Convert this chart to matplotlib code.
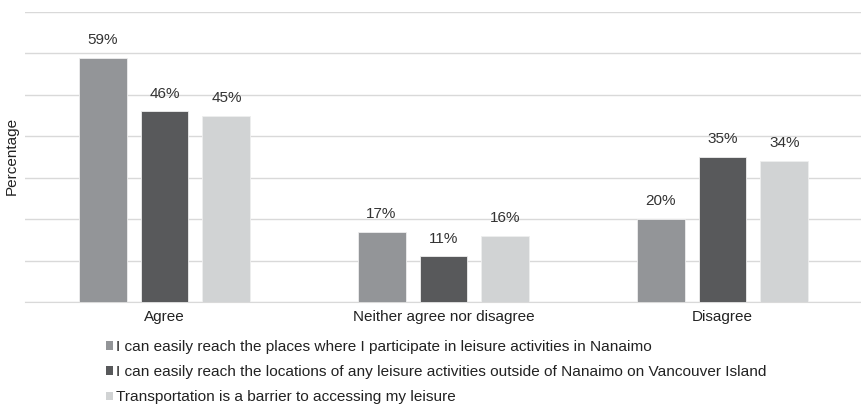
import numpy as np
import matplotlib.pyplot as plt
from matplotlib.patches import Patch

plt.rcParams['font.family'] = ['Liberation Sans', 'DejaVu Sans']

categories = ['Agree', 'Neither agree nor disagree', 'Disagree']
series_names = [
    'I can easily reach the places where I participate in leisure activities in Nanaimo',
    'I can easily reach the locations of any leisure activities outside of Nanaimo on Vancouver Island',
    'Transportation is a barrier to accessing my leisure',
]
places_nanaimo = [59, 17, 20]
outside_nanaimo = [46, 11, 35]
transport_barrier = [45, 16, 34]
colors = ['#939598', '#58595b', '#d1d3d4']

fig = plt.figure(figsize=(8.62, 4.13), dpi=100)
ax = fig.add_axes([25 / 862, 1 - 302 / 413, 837 / 862, 290 / 413])

x = np.arange(len(categories))
width = 0.172
pitch = 0.222
all_series = [places_nanaimo, outside_nanaimo, transport_barrier]

for i, (vals, c) in enumerate(zip(all_series, colors)):
    bars = ax.bar(x + (i - 1) * pitch, vals, width, color=c, edgecolor='#eeeeee',
                  linewidth=0.6, zorder=3)
    for b, v in zip(bars, vals):
        ax.text(b.get_x() + b.get_width() / 2, v + 2.6, f'{v}%', ha='center',
                va='bottom', fontsize=11, color='#333333')

ax.set_xlim(-0.5, 2.5)
ax.set_ylim(0, 70)
ax.set_yticks(np.arange(0, 71, 10))
ax.yaxis.grid(True, color='#d9d9d9', linewidth=1)
ax.tick_params(axis='y', left=False, labelleft=False)
ax.tick_params(axis='x', length=0, labelsize=11, colors='#222222', pad=6)
ax.set_xticks(x)
ax.set_xticklabels(categories)
for s in ['top', 'right', 'left']:
    ax.spines[s].set_visible(False)
ax.spines['bottom'].set_color('#d9d9d9')

fig.text(12 / 862, 1 - 156 / 413, 'Percentage', rotation=90, ha='center',
         va='center', fontsize=11, color='#222222')

handles = [Patch(facecolor=c, edgecolor='none') for c in colors]
fig.legend(handles, series_names, loc='upper left', bbox_to_anchor=(106 / 862, 1 - 340 / 413),
           frameon=False, fontsize=11.1, handlelength=0.45, handleheight=0.45,
           handletextpad=0.2, labelspacing=0.72, borderpad=0, borderaxespad=0,
           labelcolor='#222222')

fig.savefig('out.png', dpi=100)
